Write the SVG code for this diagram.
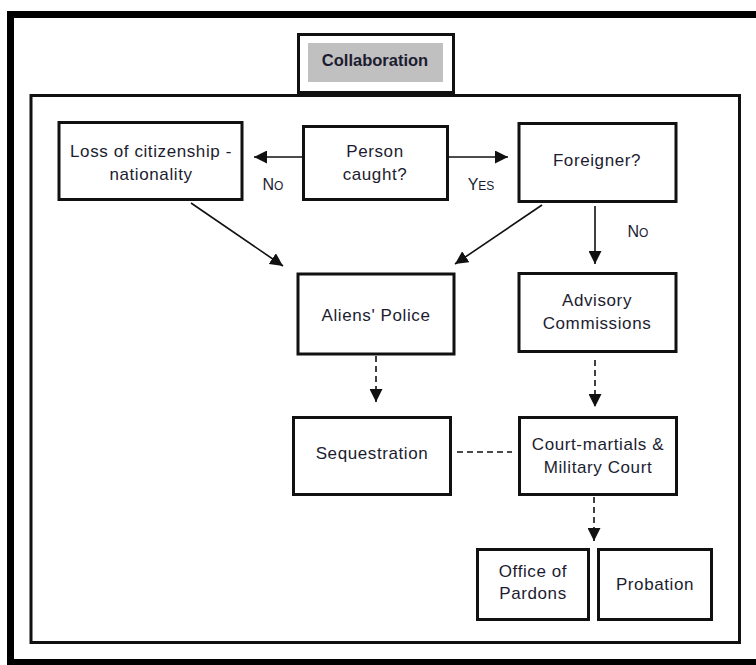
<svg xmlns="http://www.w3.org/2000/svg" width="756" height="665" viewBox="0 0 756 665">
<defs>
<style>
.box{fill:#fff;stroke:#111;stroke-width:3}
.t{font-family:"Liberation Sans",Arial,sans-serif;font-size:17px;fill:#1c1c30;text-anchor:middle;letter-spacing:0.6px}
.lbl{font-family:"Liberation Sans",Arial,sans-serif;font-size:16px;fill:#1c1c30;text-anchor:middle}
.sc{font-size:12px}
.ln{stroke:#111;stroke-width:1.6;fill:none}
.dash{stroke-dasharray:6,4}
</style>
<marker id="ah" viewBox="0 0 10 10" refX="10" refY="5" markerWidth="10" markerHeight="10" markerUnits="userSpaceOnUse" orient="auto">
<path d="M0,0 L10,5 L0,10 Z" fill="#111"/>
</marker>
<marker id="ah2" viewBox="0 0 10 10" refX="10" refY="5" markerWidth="13" markerHeight="13" markerUnits="userSpaceOnUse" orient="auto">
<path d="M0,0 L10,5 L0,10 Z" fill="#111"/>
</marker>
</defs>
<rect width="756" height="665" fill="#fff"/>
<g id="frame">
<rect x="10.5" y="14.5" width="780" height="648" fill="none" stroke="#000" stroke-width="7"/>
<rect x="31" y="95.5" width="708.5" height="547" fill="none" stroke="#111" stroke-width="3"/>
</g>
<g id="collaboration">
<rect x="298.5" y="34.5" width="155" height="58" class="box"/>
<rect x="308" y="43" width="135" height="39" fill="#c0c0c0"/>
<text x="375" y="66" font-family="Liberation Sans,Arial,sans-serif" font-size="16.5" font-weight="bold" fill="#1c1c30" text-anchor="middle">Collaboration</text>
</g>
<g id="connectors">
<line x1="302" y1="157" x2="254" y2="157" class="ln" marker-end="url(#ah2)"/>
<line x1="448" y1="157" x2="508" y2="157" class="ln" marker-end="url(#ah2)"/>
<line x1="191" y1="203" x2="283" y2="266" class="ln" marker-end="url(#ah2)"/>
<line x1="542" y1="205" x2="455" y2="264" class="ln" marker-end="url(#ah2)"/>
<line x1="595" y1="206" x2="595" y2="264" class="ln" marker-end="url(#ah2)"/>
<line x1="376" y1="356" x2="376" y2="402" class="ln dash" marker-end="url(#ah2)"/>
<line x1="595" y1="360" x2="595" y2="407" class="ln dash" marker-end="url(#ah2)"/>
<line x1="457" y1="452" x2="512" y2="452" class="ln dash"/>
<line x1="594" y1="497" x2="594" y2="541" class="ln dash" marker-end="url(#ah2)"/>
<text x="273" y="190" class="lbl">N<tspan class="sc">O</tspan></text>
<text x="481" y="190" class="lbl">Y<tspan class="sc">ES</tspan></text>
<text x="638" y="237" class="lbl">N<tspan class="sc">O</tspan></text>
</g>
<g id="loss">
<rect x="59" y="122.5" width="183" height="77" class="box"/>
<text x="151" y="157" class="t">Loss of citizenship -</text>
<text x="151" y="180" class="t">nationality</text>
</g>
<g id="person">
<rect x="303.5" y="126.5" width="144" height="73" class="box"/>
<text x="375" y="157" class="t">Person</text>
<text x="375" y="180" class="t">caught?</text>
</g>
<g id="foreigner">
<rect x="519" y="123.5" width="157" height="78" class="box"/>
<text x="597" y="166" class="t">Foreigner?</text>
</g>
<g id="aliens">
<rect x="298" y="274" width="156" height="80" class="box"/>
<text x="376" y="321" class="t">Aliens' Police</text>
</g>
<g id="advisory">
<rect x="519" y="273.5" width="157" height="78" class="box"/>
<text x="597" y="306" class="t">Advisory</text>
<text x="597" y="329" class="t">Commissions</text>
</g>
<g id="sequestration">
<rect x="293.5" y="417.5" width="157" height="77" class="box"/>
<text x="372" y="459" class="t">Sequestration</text>
</g>
<g id="court">
<rect x="519.5" y="417.5" width="157" height="77" class="box"/>
<text x="598" y="450" class="t">Court-martials &amp;</text>
<text x="598" y="473" class="t">Military Court</text>
</g>
<g id="pardons">
<rect x="477.5" y="549.5" width="111" height="70" class="box"/>
<text x="533" y="577" class="t">Office of</text>
<text x="533" y="599" class="t">Pardons</text>
</g>
<g id="probation">
<rect x="598.5" y="549.5" width="113" height="70" class="box"/>
<text x="655" y="590" class="t">Probation</text>
</g>
</svg>
